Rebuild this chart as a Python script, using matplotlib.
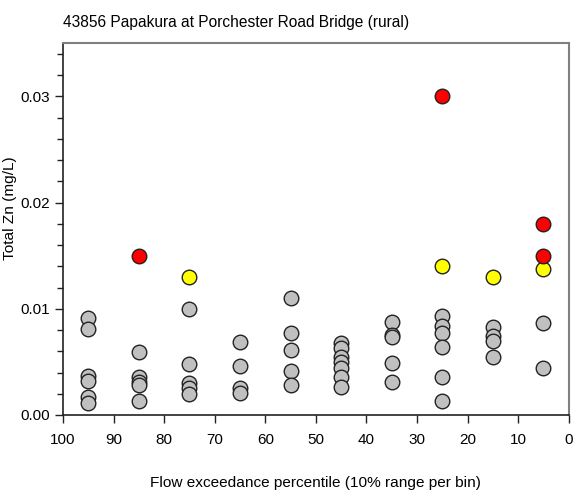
import matplotlib
matplotlib.use("Agg")
import matplotlib.pyplot as plt
from matplotlib.ticker import MultipleLocator, FormatStrFormatter

plt.rcParams["font.family"] = ["Liberation Sans", "DejaVu Sans"]

title = "43856 Papakura at Porchester Road Bridge (rural)"

# Flow bins (centre of each 10% exceedance range) and Total Zn samples (mg/L)
grey_x = [95]*6 + [85]*5 + [75]*5 + [65]*4 + [55]*5 + [45]*7 + [35]*5 + [25]*6 + [15]*4 + [5]*2
grey_y = [0.0091, 0.0081, 0.0037, 0.0032, 0.0017, 0.0011,
          0.0059, 0.0036, 0.0031, 0.0028, 0.0013,
          0.0100, 0.0048, 0.0030, 0.0025, 0.0020,
          0.0069, 0.0046, 0.0025, 0.0021,
          0.0110, 0.0077, 0.0061, 0.0041, 0.0028,
          0.0068, 0.0063, 0.0055, 0.0050, 0.0044, 0.0036, 0.0026,
          0.0088, 0.0075, 0.0073, 0.0049, 0.0031,
          0.0093, 0.0084, 0.0077, 0.0064, 0.0036, 0.0013,
          0.0083, 0.0074, 0.0070, 0.0055,
          0.0087, 0.0044]
yellow_x = [75, 25, 15, 5]
yellow_y = [0.0130, 0.0140, 0.0130, 0.0137]
red_x = [85, 25, 5, 5]
red_y = [0.0150, 0.0300, 0.0180, 0.0150]

fig = plt.figure(figsize=(5.78, 4.97), dpi=100)
ax = fig.add_axes([0.109, 0.165, 0.875, 0.748])

kw = dict(s=110, edgecolors="#222222", linewidths=1.0, zorder=3)
ax.scatter(grey_x, grey_y, c="#c0c0c0", **kw)
ax.scatter(yellow_x, yellow_y, c="#ffff00", **kw)
ax.scatter(red_x, red_y, c="#ff0000", **kw)

ax.set_xlim(100, 0)
ax.set_ylim(0, 0.035)
ax.xaxis.set_major_locator(MultipleLocator(10))
ax.yaxis.set_major_locator(MultipleLocator(0.01))
ax.yaxis.set_minor_locator(MultipleLocator(0.002))
ax.yaxis.set_major_formatter(FormatStrFormatter("%.2f"))

ax.tick_params(axis="both", which="major", direction="out", length=6, width=1,
               labelsize=11, color="#222222")
ax.tick_params(axis="y", which="minor", direction="out", length=4, width=1, color="#222222")
ax.tick_params(axis="x", which="major", pad=7)

for side in ("left", "bottom"):
    ax.spines[side].set_color("#222222")
    ax.spines[side].set_linewidth(1.2)
for side in ("top", "right"):
    ax.spines[side].set_color("#808080")
    ax.spines[side].set_linewidth(1.5)

ax.set_xlabel("Flow exceedance percentile (10% range per bin)", fontsize=11.1, labelpad=21)
fig.text(10 / 578, 1 - 208 / 497, "Total Zn (mg/L)", fontsize=11.1,
         rotation=90, ha="center", va="center")
fig.text(0.109, 0.955, title, fontsize=11.2, ha="left", va="center")

fig.savefig("out.png", dpi=100)
